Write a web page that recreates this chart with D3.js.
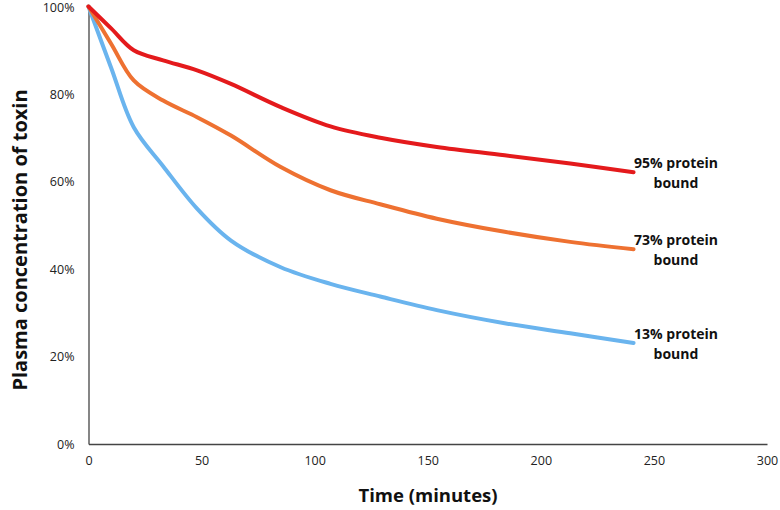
<!DOCTYPE html>
<html><head><meta charset="utf-8">
<script src="https://cdn.jsdelivr.net/npm/d3@7"></script>
<style>body{margin:0;background:#fff}svg{display:block}</style>
</head><body>
<svg id="c" width="780" height="510"></svg>
<script>
const times = [0, 10, 20, 33, 48, 63, 85, 107, 129, 154, 184, 213, 241];
const bound95 = [100, 95, 90, 87.7, 85.4, 82.3, 77, 72.6, 70, 67.9, 66, 64.1, 62.1];
const bound73 = [100, 91.5, 83.1, 78.5, 74.7, 70.5, 63.3, 58, 54.8, 51.5, 48.5, 46.2, 44.5];
const bound13 = [100, 86, 72.4, 63.5, 53.8, 46.5, 40.4, 36.6, 33.7, 30.6, 27.6, 25.3, 23.1];
const seriesNames = ["95% protein bound", "73% protein bound", "13% protein bound"];
const xTicks = [0, 50, 100, 150, 200, 250, 300];
const yTicks = [0, 20, 40, 60, 80, 100];

const svg = d3.select("#c");
const x = d3.scaleLinear().domain([0, 300]).range([88.5, 767]);
const y = d3.scaleLinear().domain([0, 100]).range([444, 6.5]);
const font = "'Open Sans', 'Liberation Sans', sans-serif";

const xAxis = svg.append("g").attr("transform", "translate(0,444)")
  .call(d3.axisBottom(x).tickValues(xTicks).tickSize(0).tickPadding(12).tickFormat(d3.format("d")));
const yAxis = svg.append("g").attr("transform", "translate(88.5,0)")
  .call(d3.axisLeft(y).tickValues(yTicks).tickSize(0).tickPadding(14).tickFormat(d => d + "%"));
[xAxis, yAxis].forEach(a => {
  a.select(".domain").attr("stroke", "#444").attr("stroke-width", 1.3);
  a.selectAll("text").attr("font-family", font).attr("font-size", 12.5).attr("fill", "#222");
});
yAxis.selectAll(".tick text").filter(d => d === 100).attr("dy", "0.42em");

const line = d3.line().x((d, i) => x(times[i])).y(d => y(d)).curve(d3.curveCatmullRom.alpha(0.5));
const data = [bound95, bound73, bound13];
const colors = ["#E41A1C", "#EE7131", "#6AB4EE"];
[2, 1, 0].forEach(i => {
  svg.append("path").attr("d", line(data[i])).attr("fill", "none")
    .attr("stroke", colors[i]).attr("stroke-width", 4).attr("stroke-linecap", "round")
    .attr("stroke-linejoin", "round");
});

const lblY = data.map(s => s[s.length - 1]);
seriesNames.forEach((n, i) => {
  const parts = n.split(" ");
  const t = svg.append("text").attr("x", 676).attr("y", y(lblY[i]) - 4)
    .attr("text-anchor", "middle").attr("font-family", font).attr("font-weight", "bold")
    .attr("font-size", 14).attr("fill", "#111");
  t.append("tspan").attr("x", 676).text(parts[0] + " " + parts[1]);
  t.append("tspan").attr("x", 676).attr("dy", 20).text(parts[2]);
});

svg.append("text").attr("x", 428).attr("y", 502).attr("text-anchor", "middle")
  .attr("font-family", font).attr("font-weight", "bold").attr("font-size", 18.5).attr("fill", "#111")
  .text("Time (minutes)");
svg.append("text").attr("transform", "translate(27,240) rotate(-90)").attr("text-anchor", "middle")
  .attr("font-family", font).attr("font-weight", "bold").attr("font-size", 20).attr("fill", "#111")
  .text("Plasma concentration of toxin");
</script>
</body></html>
